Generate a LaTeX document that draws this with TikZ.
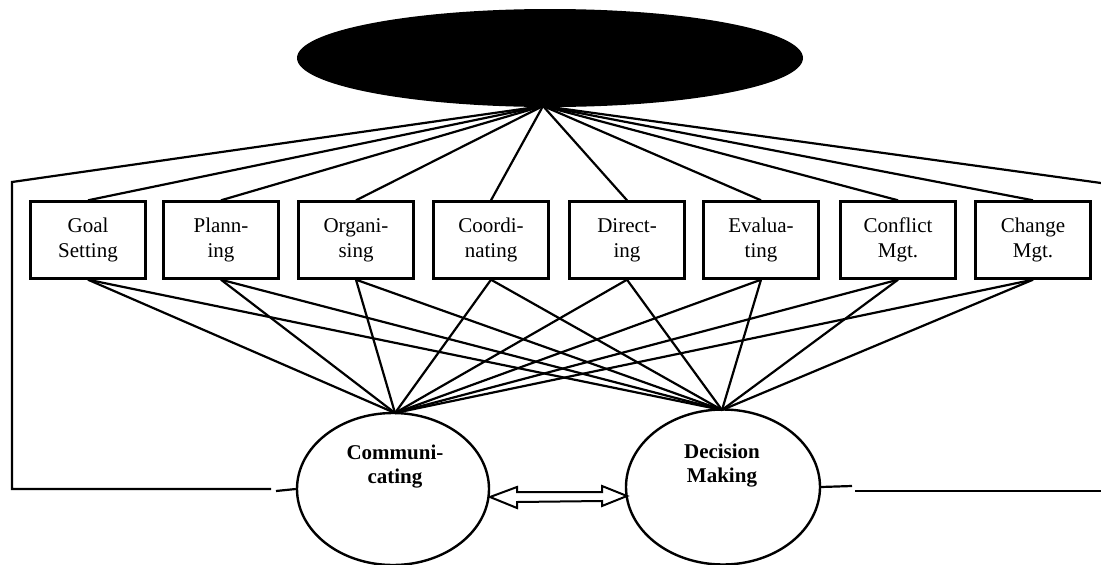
\documentclass[tikz,border=0pt]{standalone}
\usepackage{fontspec}
\setmainfont{Liberation Serif}
\usetikzlibrary{shapes.geometric}
\begin{document}
\begin{tikzpicture}[x=1pt,y=-1pt,
  conn/.style={line width=2.2pt},
  taskbox/.style={draw, line width=2.4pt, minimum width=115pt, minimum height=77pt, inner sep=0pt,
    align=center, font=\fontsize{21}{25}\selectfont},
  oval/.style={draw, ellipse, line width=2.4pt, inner sep=0pt},
  ovaltext/.style={align=center, font=\bfseries\fontsize{21}{24}\selectfont}]
\useasboundingbox (0,0) rectangle (1101,565);
% top ellipse
\node[ellipse, fill=black, minimum width=506pt, minimum height=98pt, inner sep=0pt] (top) at (550,58) {};
\coordinate (apex) at (543,106);
% boxes
\node[taskbox] (b1) at (88,240) {Goal\\Setting};
\node[taskbox] (b2) at (221,240) {Plann-\\ing};
\node[taskbox] (b3) at (356,240) {Organi-\\sing};
\node[taskbox] (b4) at (491,240) {Coordi-\\nating};
\node[taskbox] (b5) at (627,240) {Direct-\\ing};
\node[taskbox] (b6) at (761,240) {Evalua-\\ting};
\node[taskbox] (b7) at (898,240) {Conflict\\Mgt.};
\node[taskbox] (b8) at (1033,240) {Change\\Mgt.};
% bottom ellipses
\node[oval, minimum width=192pt, minimum height=152pt] (comm) at (393,489) {};
\node[oval, minimum width=194pt, minimum height=155pt] (dm) at (723,487) {};
\node[ovaltext] (commtext) at (395,467) {Communi-\\cating};
\node[ovaltext] (dmtext) at (722,466) {Decision\\Making};
\coordinate (capex) at (395,413);
\coordinate (dapex) at (722,410);
% lines from apex to boxes, and boxes to the two ellipses
\foreach \b in {b1,b2,b3,b4,b5,b6,b7,b8} {
  \draw[conn] (apex) -- (\b.north);
  \draw[conn] (\b.south) -- (capex);
  \draw[conn] (\b.south) -- (dapex);
}
% outer frame
\coordinate (lt) at (12,182);
\coordinate (lb) at (12,489);
\coordinate (lg1) at (271,489);
\coordinate (lg2) at (276,491);
\coordinate (rt) at (1101,183);
\coordinate (rg1) at (852,486);
\coordinate (rg2) at (855,491);
\coordinate (rr) at (1101,491);
\draw[conn, line join=miter] (apex) -- (lt) -- (lb) -- (lg1);
\draw[conn] (lg2) -- (comm.west);
\draw[conn] (apex) -- (rt);
\draw[conn] (dm.east) -- (rg1);
\draw[conn] (rg2) -- (rr);
% hollow double arrow between the ellipses
\draw[line width=2pt, line join=miter, fill=white]
  (490,497) -- (517,487) -- (517,492) -- (602,492) -- (602,486) -- (627,496)
  -- (602,506) -- (602,501) -- (517,502) -- (517,508) -- cycle;
\end{tikzpicture}
\end{document}
